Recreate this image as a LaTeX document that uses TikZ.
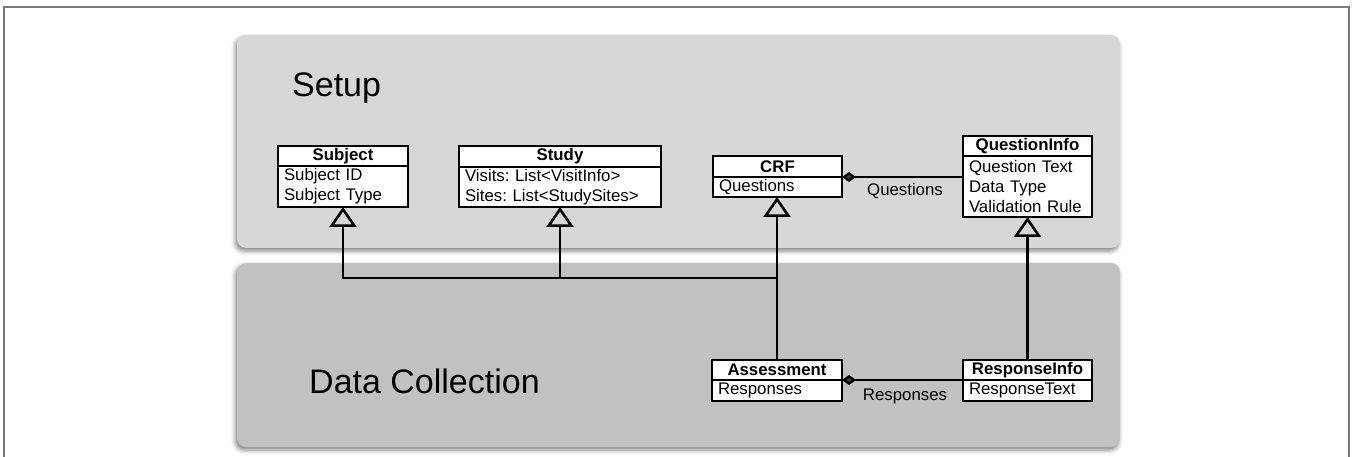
\documentclass[tikz,border=0pt]{standalone}
\usepackage{fontspec}
\setmainfont{Liberation Sans}
\usetikzlibrary{arrows.meta,shadows.blur,calc}
\definecolor{setupfill}{HTML}{D7D7D7}
\definecolor{dcfill}{HTML}{C1C1C1}
\definecolor{framegray}{HTML}{7A7A7A}
\begin{document}
\begin{tikzpicture}[x=1pt,y=-1pt,
  panel/.style={rounded corners=9pt, blur shadow={shadow xshift=-1.5pt, shadow yshift=-3pt, shadow blur radius=4.5pt, shadow opacity=50}},
  clshead/.style={draw=black, fill=white, line width=1.3pt, inner sep=0pt, outer sep=0pt, anchor=north west, font=\fontsize{16.8}{20}\selectfont\bfseries},
  clsbody/.style={draw=black, fill=white, line width=1.3pt, inner xsep=6pt, inner ysep=0pt, outer sep=0pt, anchor=north west, align=left, font=\fontsize{16.8}{20}\selectfont\frenchspacing},
  title/.style={anchor=base west, inner sep=0pt, font=\fontsize{34}{40}\selectfont},
  lbl/.style={inner sep=0pt, font=\fontsize{16.8}{20}\selectfont},
  inh/.style={line width=2.6pt, -{Triangle[open, width=27pt, length=20pt]}},
  plain/.style={line width=2.6pt, line cap=rect},
  comp/.style={line width=2.4pt, {Diamond[length=14pt, width=10pt]}-},
]
\useasboundingbox (0,0) rectangle (1352,457);
% outer frame
\draw[framegray, line width=1.5pt] (4,460) -- (4,7) -- (1349,7) -- (1349,460);
% panels
\fill[panel, setupfill] (237,35) rectangle (1120,248);
\fill[panel, dcfill] (237,263) rectangle (1120,447);
\node[title] (tsetup) at (292,97) {Setup};
\node[title] (tdc) at (309,393) {Data Collection};

% classes
\node[clshead, minimum width=130pt, minimum height=20pt] (subj) at (278,146) {Subject};
\node[clsbody, text width=118pt, minimum height=41pt] (subjb) at (subj.south west) {Subject ID\\Subject Type};

\node[clshead, minimum width=202pt, minimum height=21pt] (study) at (459,146) {Study};
\node[clsbody, text width=190pt, minimum height=40pt] (studyb) at (study.south west) {Visits: List<VisitInfo>\\Sites: List<StudySites>};

\node[clshead, minimum width=129pt, minimum height=21pt] (crf) at (713,156) {CRF};
\node[clsbody, text width=117pt, minimum height=20pt] (crfb) at (crf.south west) {Questions};

\node[clshead, minimum width=129pt, minimum height=20pt] (qi) at (963,136) {QuestionInfo};
\node[clsbody, text width=117pt, minimum height=61pt] (qib) at (qi.south west) {Question Text\\Data Type\\Validation Rule};

\node[clshead, minimum width=130pt, minimum height=20pt] (as) at (712,360) {Assessment};
\node[clsbody, text width=118pt, minimum height=21pt] (asb) at (as.south west) {Responses};

\node[clshead, minimum width=129pt, minimum height=20pt] (ri) at (963,360) {ResponseInfo};
\node[clsbody, text width=117pt, minimum height=21pt] (rib) at (ri.south west) {ResponseText};

% junction line
\coordinate (j) at (0,278);
\draw[plain] (subjb.south |- j) -- (as.north |- j);
\draw[inh] (subjb.south |- j) -- (subjb.south);
\draw[inh] (studyb.south |- j) -- (studyb.south);
\draw[inh] (as.north) -- (as.north |- crfb.south);
\draw[inh] (ri.north) -- (ri.north |- qib.south);

% compositions
\draw[comp] (crf.south east) -- (crf.south east -| qib.west);
\draw[comp] (as.south east) -- (ri.south west);
\node[lbl] (lq) at (905,191) {Questions};
\node[lbl] (lr) at (905,396) {Responses};
\end{tikzpicture}
\end{document}
